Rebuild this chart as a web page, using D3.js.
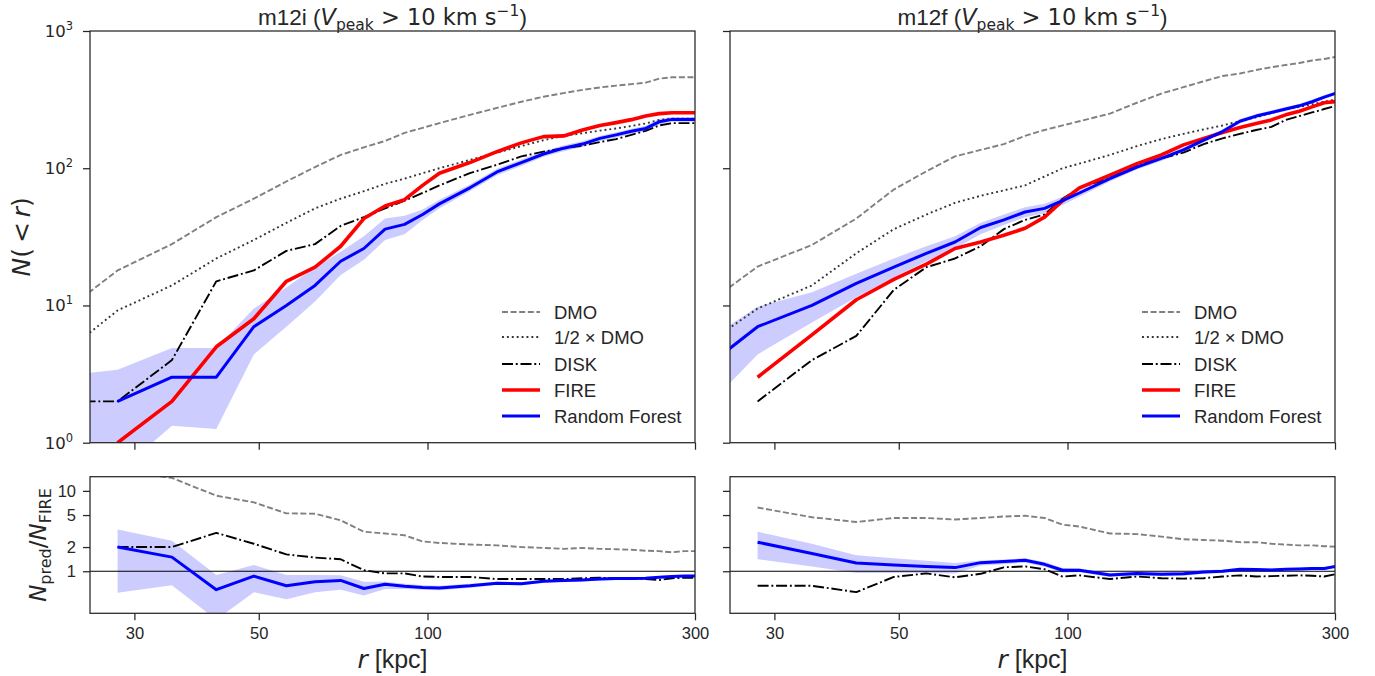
<!DOCTYPE html>
<html><head><meta charset="utf-8">
<script src="https://cdn.jsdelivr.net/npm/d3@7"></script>
<style>body{margin:0;background:#fff}</style>
</head><body>
<svg id="chart" width="1375" height="676"></svg>
<script>
// radial bins (kpc)
const r = [21,28,35,42,49,56,63,70,77,84,91,98,105,119,133,147,161,175,189,203,217,231,245,259,273,287,301];
const xTicks = [30,50,100,300];
const yTopTicks = [1,10,100,1000];
const yBotTicks = [1,2,5,10];
const titles = ["m12i", "m12f"];
const legendLabels = ["DMO", "1/2 \u00d7 DMO", "DISK", "FIRE", "Random Forest"];

// m12i cumulative counts N(<r)
const m12i_dmo  = [7.3,18,28,44,60,80,102,125,142,158,181,197,213,245,275,305,332,353,372,388,400,410,420,450,460,460,460];
const m12i_half = [3.6,9.2,14,22,30,40,51,60,68,77,84,92,100,115,130,145,160,172,180,188,195,203,212,225,230,230,230];
const m12i_disk = [2,2,4,15,18,25,28,38,44,51,58,66,75,92,106,122,132,140,146,155,163,175,187,205,213,213,213];
const m12i_fire = [null,1,2,5,8,15,19,27,43,53,59,75,92,110,132,153,170,172,190,205,215,226,240,250,254,254,254];
const m12i_rf   = [null,2,3,3,7,10,14,21,26,36,39,46,55,72,94,110,127,140,150,165,175,186,195,218,227,227,227];
const m12i_rfHi = [3.0,3.4,4.9,4.9,9.5,13.5,19,24.6,32,43,45,50,59,76,99,116,133,147,157,172,183,194,204,229,236,236,236];
const m12i_rfLo = [0.6,0.6,1.33,1.26,4.4,7,10.7,16.7,21.5,30,33,42,51,68,89,104,121,133,143,158,167,178,186,208,218,218,218];
// m12i ratios N_pred / N_FIRE
const m12i_ratioDmo  = [null,18,14.5,8.7,7.2,5.25,5.2,4.3,3.1,2.95,2.8,2.35,2.25,2.15,2.1,2.0,1.95,1.9,1.95,1.9,1.88,1.85,1.8,1.78,1.72,1.78,1.78];
const m12i_ratioDisk = [null,2,2,3,2.2,1.62,1.48,1.41,1.03,0.94,0.94,0.86,0.85,0.85,0.8,0.8,0.8,0.8,0.82,0.83,0.82,0.82,0.8,0.78,0.82,0.83,0.83];
const m12i_ratioRf   = [null,2,1.5,0.59,0.87,0.66,0.74,0.77,0.61,0.69,0.65,0.63,0.62,0.66,0.71,0.7,0.75,0.77,0.78,0.8,0.81,0.81,0.82,0.84,0.86,0.87,0.87];
const m12i_ratioHi   = [null,3.3,2.4,0.9,1.2,0.9,0.9,0.89,0.74,0.74,0.7,0.67,0.66,0.7,0.74,0.73,0.78,0.8,0.81,0.83,0.84,0.84,0.85,0.87,0.89,0.9,0.9];
const m12i_ratioLo   = [null,0.54,0.67,0.25,0.55,0.45,0.55,0.59,0.5,0.6,0.6,0.59,0.58,0.62,0.68,0.67,0.72,0.74,0.75,0.77,0.78,0.78,0.79,0.81,0.83,0.84,0.84];

// m12f cumulative counts N(<r)
const m12f_dmo  = [8.1,19.2,27.6,43,70,95,122,136,150,172,190,205,220,250,300,350,390,430,470,490,520,545,565,585,610,625,648];
const m12f_half = [4.2,9.5,14,24,36,46,56,63,69,75,87,100,108,125,145,163,178,192,205,220,235,252,268,280,292,305,318];
const m12f_disk = [null,2,4,6,13,19,22,27,36,42,46,60,72,85,105,118,130,150,165,178,190,200,225,240,255,270,285];
const m12f_fire = [null,3,6.1,11,15.5,20,26,29,32.5,36.5,44,58,72,89,108,125,148,165,182,198,212,225,245,260,280,300,306];
const m12f_rf   = [2.8,7,10,14.5,19,24,29,37,42,48,51,58,66,84,102,118,136,160,185,220,240,255,270,285,305,330,352];
const m12f_rfHi = [4.5,9.8,12.5,17,22,27,32,40,46,52,55,62,70,88,106,123,141,166,192,228,248,263,279,294,315,340,362];
const m12f_rfLo = [1.3,4.4,7.5,11.5,16,21,26,33,38.5,44,47,54,62,80,98,113,131,154,178,212,232,247,261,276,295,320,342];
// m12f ratios
const m12f_ratioDmo  = [null,6.2,4.7,4.1,4.6,4.6,4.4,4.6,4.8,4.9,4.6,3.8,3.6,2.95,2.9,2.7,2.5,2.45,2.4,2.3,2.3,2.2,2.15,2.1,2.1,2.05,2.02];
const m12f_ratioDisk = [null,0.66,0.66,0.55,0.85,0.94,0.84,0.93,1.12,1.15,1.06,0.86,0.89,0.8,0.86,0.82,0.81,0.82,0.86,0.89,0.86,0.87,0.88,0.89,0.88,0.86,0.92];
const m12f_ratioRf   = [null,2.3,1.66,1.27,1.2,1.15,1.11,1.28,1.32,1.37,1.22,1.03,1.03,0.9,0.94,0.92,0.93,0.98,1.0,1.06,1.05,1.04,1.06,1.07,1.08,1.08,1.15];
const m12f_ratioHi   = [null,3.1,2.2,1.58,1.45,1.35,1.27,1.36,1.4,1.45,1.3,1.1,1.08,0.95,0.99,0.97,0.98,1.03,1.05,1.1,1.09,1.08,1.1,1.11,1.12,1.12,1.18];
const m12f_ratioLo   = [null,1.41,1.15,0.95,0.95,0.95,0.94,1.18,1.22,1.28,1.14,0.96,0.97,0.85,0.89,0.87,0.88,0.93,0.95,1.01,1.0,1.0,1.02,1.03,1.04,1.04,1.11];

const panels = [
  {name: titles[0], x0: 90, x1: 695, labels: true,
   top: {dmo:m12i_dmo, half:m12i_half, disk:m12i_disk, fire:m12i_fire, rf:m12i_rf, hi:m12i_rfHi, lo:m12i_rfLo},
   bot: {dmo:m12i_ratioDmo, disk:m12i_ratioDisk, rf:m12i_ratioRf, hi:m12i_ratioHi, lo:m12i_ratioLo}},
  {name: titles[1], x0: 730, x1: 1335, labels: false,
   top: {dmo:m12f_dmo, half:m12f_half, disk:m12f_disk, fire:m12f_fire, rf:m12f_rf, hi:m12f_rfHi, lo:m12f_rfLo},
   bot: {dmo:m12f_ratioDmo, disk:m12f_ratioDisk, rf:m12f_ratioRf, hi:m12f_ratioHi, lo:m12f_ratioLo}}
];

const TXT = "#262626";
const SANS = "'Liberation Sans', Arial, sans-serif";
const MATH = "'DejaVu Sans', sans-serif";
const topY0 = 31, topY1 = 442.7, botY0 = 476.7, botY1 = 613.3;

const svg = d3.select("#chart");
const defs = svg.append("defs");

const styles = {
  dmo:  {stroke:"#808080", width:1.9, dash:"6,2.6"},
  half: {stroke:"#333333", width:1.9, dash:"1.9,3"},
  disk: {stroke:"#000000", width:1.9, dash:"11,2.8,1.9,2.8"},
  fire: {stroke:"#ff0000", width:3.6, dash:null},
  rf:   {stroke:"#0000ff", width:3.0, dash:null}
};

function drawLine(g, x, y, vals, st) {
  const pts = r.map((rv, i) => [rv, vals[i]]);
  const line = d3.line().defined(d => d[1] != null && d[1] > 0)
    .x(d => x(d[0])).y(d => y(d[1]));
  g.append("path").attr("d", line(pts)).attr("fill", "none")
    .attr("stroke", st.stroke).attr("stroke-width", st.width)
    .attr("stroke-dasharray", st.dash).attr("stroke-linejoin", "round");
}
function drawBand(g, x, y, lo, hi) {
  const pts = r.map((rv, i) => [rv, lo[i], hi[i]]);
  const area = d3.area().defined(d => d[1] != null && d[2] != null)
    .x(d => x(d[0])).y0(d => y(Math.max(d[1], 1e-3))).y1(d => y(d[2]));
  g.append("path").attr("d", area(pts)).attr("fill", "#0000ff").attr("fill-opacity", 0.2);
}

function styleAxis(ax) {
  ax.select(".domain").remove();
  ax.selectAll(".tick line").attr("stroke", TXT).attr("stroke-width", 1.25);
  ax.selectAll(".tick text").attr("fill", TXT).style("font-family", SANS).style("font-size", "16.5px");
}

panels.forEach((p, pi) => {
  const x = d3.scaleLog().domain([25, 300]).range([p.x0, p.x1]);
  const yT = d3.scaleLog().domain([1, 1000]).range([topY1, topY0]);
  const yB = d3.scaleLog().domain([0.3, 15]).range([botY1, botY0]);

  defs.append("clipPath").attr("id", "ct" + pi).append("rect")
    .attr("x", p.x0).attr("y", topY0).attr("width", p.x1 - p.x0).attr("height", topY1 - topY0);
  defs.append("clipPath").attr("id", "cb" + pi).append("rect")
    .attr("x", p.x0).attr("y", botY0).attr("width", p.x1 - p.x0).attr("height", botY1 - botY0);

  // ---- top panel
  const gt = svg.append("g").attr("clip-path", `url(#ct${pi})`);
  drawBand(gt, x, yT, p.top.lo, p.top.hi);
  drawLine(gt, x, yT, p.top.dmo, styles.dmo);
  drawLine(gt, x, yT, p.top.half, styles.half);
  drawLine(gt, x, yT, p.top.disk, styles.disk);
  drawLine(gt, x, yT, p.top.fire, styles.fire);
  drawLine(gt, x, yT, p.top.rf, styles.rf);

  // ---- bottom panel
  const gb = svg.append("g").attr("clip-path", `url(#cb${pi})`);
  drawBand(gb, x, yB, p.bot.lo, p.bot.hi);
  drawLine(gb, x, yB, p.bot.dmo, styles.dmo);
  drawLine(gb, x, yB, p.bot.disk, styles.disk);
  gb.append("line").attr("x1", p.x0).attr("x2", p.x1).attr("y1", yB(1)).attr("y2", yB(1))
    .attr("stroke", "#000").attr("stroke-width", 1.2);
  drawLine(gb, x, yB, p.bot.rf, styles.rf);

  // frames
  [[topY0, topY1], [botY0, botY1]].forEach(([a, b]) => {
    svg.append("rect").attr("x", p.x0).attr("y", a).attr("width", p.x1 - p.x0).attr("height", b - a)
      .attr("fill", "none").attr("stroke", TXT).attr("stroke-width", 1.25);
  });

  // axes
  const axTopX = svg.append("g").attr("transform", `translate(0,${topY1})`)
    .call(d3.axisBottom(x).tickValues(xTicks).tickFormat("").tickSize(7).tickSizeOuter(0));
  styleAxis(axTopX);
  const axBotX = svg.append("g").attr("transform", `translate(0,${botY1})`)
    .call(d3.axisBottom(x).tickValues(xTicks).tickFormat(d3.format("d")).tickSize(7).tickPadding(7).tickSizeOuter(0));
  styleAxis(axBotX);

  const axTopY = svg.append("g").attr("transform", `translate(${p.x0},0)`)
    .call(d3.axisLeft(yT).tickValues(yTopTicks).tickFormat("").tickSize(7).tickSizeOuter(0));
  styleAxis(axTopY);
  if (p.labels) {
    yTopTicks.forEach(v => {
      const t = svg.append("text").attr("x", p.x0 - 17).attr("y", yT(v) + 6)
        .attr("text-anchor", "end").attr("fill", TXT).style("font-family", MATH).style("font-size", "16.5px");
      t.append("tspan").text("10");
      t.append("tspan").attr("dy", -7).style("font-size", "11.5px").text(Math.round(Math.log10(v)));
    });
  }
  const axBotY = svg.append("g").attr("transform", `translate(${p.x0},0)`)
    .call(d3.axisLeft(yB).tickValues(yBotTicks).tickFormat(p.labels ? d3.format("d") : "")
      .tickSize(7).tickPadding(7).tickSizeOuter(0));
  styleAxis(axBotY);

  // title
  const cx = (p.x0 + p.x1) / 2;
  const tt = svg.append("text").attr("x", cx).attr("y", 25).attr("text-anchor", "middle")
    .attr("fill", TXT).style("font-size", "22.5px").style("font-family", MATH);
  tt.append("tspan").style("font-family", SANS).text(p.name + " (");
  tt.append("tspan").style("font-style", "italic").text("V");
  tt.append("tspan").attr("dy", 5).style("font-size", "15.5px").text("peak");
  tt.append("tspan").attr("dy", -5).text(" > 10 km s");
  tt.append("tspan").attr("dy", -9).style("font-size", "15.5px").text("\u22121");
  tt.append("tspan").attr("dy", 9).style("font-family", SANS).text(")");

  // x label
  const xl = svg.append("text").attr("x", cx).attr("y", 668).attr("text-anchor", "middle")
    .attr("fill", TXT).style("font-size", "25px").style("font-family", SANS);
  xl.append("tspan").style("font-family", MATH).style("font-style", "italic").text("r");
  xl.append("tspan").text(" [kpc]");

  // legend
  const lx = p.x1 - 193, rows = [312, 337, 364, 390, 416];
  const keys = ["dmo", "half", "disk", "fire", "rf"];
  keys.forEach((k, i) => {
    const st = styles[k];
    svg.append("line").attr("x1", lx).attr("x2", lx + 38).attr("y1", rows[i]).attr("y2", rows[i])
      .attr("stroke", st.stroke).attr("stroke-width", st.width).attr("stroke-dasharray", st.dash);
    svg.append("text").attr("x", lx + 52).attr("y", rows[i] + 6.5).attr("fill", TXT)
      .style("font-family", SANS).style("font-size", "18.5px").text(legendLabels[i]);
  });
});

// y labels
const yl1 = svg.append("text").attr("transform", `translate(30,${(topY0 + topY1) / 2}) rotate(-90)`)
  .attr("text-anchor", "middle").attr("fill", TXT).style("font-family", MATH).style("font-size", "25px");
yl1.append("tspan").style("font-style", "italic").text("N");
yl1.append("tspan").text("(\u2009<\u2009");
yl1.append("tspan").style("font-style", "italic").text("r");
yl1.append("tspan").text(")");

const yl2 = svg.append("text").attr("transform", `translate(46,${(botY0 + botY1) / 2}) rotate(-90)`)
  .attr("text-anchor", "middle").attr("fill", TXT).style("font-family", MATH).style("font-size", "23px");
yl2.append("tspan").style("font-style", "italic").text("N");
yl2.append("tspan").attr("dy", 5).style("font-size", "16px").text("pred");
yl2.append("tspan").attr("dy", -5).text("/");
yl2.append("tspan").style("font-style", "italic").text("N");
yl2.append("tspan").attr("dy", 5).style("font-size", "16px").text("FIRE");
</script>
</body></html>
